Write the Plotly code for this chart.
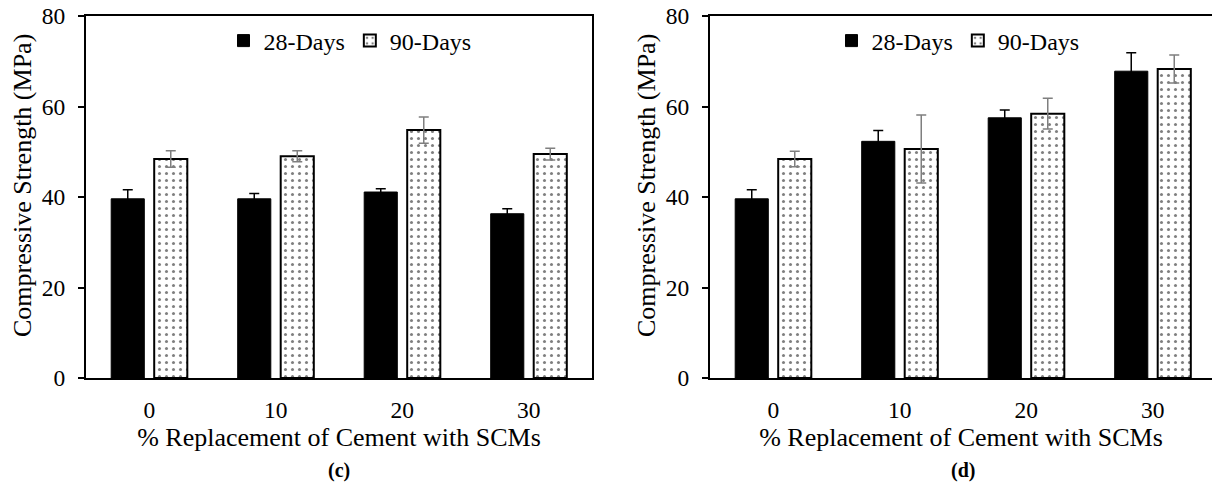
import plotly.graph_objects as go

categories = ["0", "10", "20", "30"]

# Panel (c)
c_28 = [39.6, 39.6, 41.1, 36.3]
c_28_err = [2.0, 1.2, 0.7, 1.1]
c_90 = [48.4, 49.0, 54.8, 49.5]
c_90_err = [1.8, 1.2, 2.9, 1.3]

# Panel (d)
d_28 = [39.6, 52.3, 57.5, 67.8]
d_28_err = [2.0, 2.4, 1.7, 4.1]
d_90 = [48.4, 50.6, 58.4, 68.3]
d_90_err = [1.7, 7.5, 3.4, 3.1]

y_ticks = [0, 20, 40, 60, 80]
x_title = "% Replacement of Cement with SCMs"
y_title = "Compressive Strength (MPa)"
panel_labels = ["(c)", "(d)"]

FONT = "Times New Roman, 'Liberation Serif', Tinos, 'DejaVu Serif', serif"
W, H = 1212, 488
ML, MR, MT, MB = 86, 0, 16, 110

fig = go.Figure()

def add_pair(xa, ya, legend, v28, e28, v90, e90):
    fig.add_trace(go.Bar(
        x=categories, y=v28, name="28-Days", xaxis=xa, yaxis=ya, legend=legend,
        marker=dict(color="black", line=dict(color="black", width=1)),
        error_y=dict(type="data", array=e28, color="black", thickness=1.5, width=5),
    ))
    fig.add_trace(go.Bar(
        x=categories, y=v90, name="90-Days", xaxis=xa, yaxis=ya, legend=legend,
        marker=dict(color="white", line=dict(color="black", width=2),
                    pattern=dict(shape=".", fgcolor="black", bgcolor="white",
                                 size=7, solidity=0.15, fillmode="overlay")),
        error_y=dict(type="data", array=e90, color="#7f7f7f", thickness=1.5, width=5),
    ))

add_pair("x", "y", "legend", c_28, c_28_err, c_90, c_90_err)
add_pair("x2", "y2", "legend2", d_28, d_28_err, d_90, d_90_err)

plot_w = W - ML - MR
plot_h = H - MT - MB
panel_px = 506
d1 = [0, panel_px / plot_w]
d2 = [(710 - ML) / plot_w, 1]
cat_px = panel_px / 4.0
x2_right = -0.5 + (W - 710) / cat_px

axis_common = dict(showline=True, linecolor="black", linewidth=2,
                   tickfont=dict(family=FONT, size=23.5, color="black"),
                   showgrid=False, zeroline=False)

xa = dict(axis_common, type="category", ticks="", ticklabelstandoff=10,
          title=dict(text=x_title, font=dict(family=FONT, size=26, color="black"), standoff=2))
ya = dict(axis_common, range=[0, 80], tickvals=y_ticks, ticks="outside", ticklen=6,
          tickcolor="black", tickwidth=1.5, ticklabelstandoff=8)

fig.update_layout(
    width=W, height=H,
    margin=dict(l=ML, r=MR, t=MT, b=MB, autoexpand=False),
    paper_bgcolor="white", plot_bgcolor="white",
    barmode="group", bargap=0.32, bargroupgap=0.23,
    font=dict(family=FONT, color="black"),
    xaxis=dict(xa, domain=d1, range=[-0.5, 3.5], mirror=True, anchor="y"),
    yaxis=dict(ya, domain=[0, 1], mirror=True, anchor="x"),
    xaxis2=dict(xa, domain=d2, range=[-0.5, x2_right], mirror=True, anchor="y2"),
    yaxis2=dict(ya, domain=[0, 1], mirror=False, anchor="x2"),
    legend=dict(orientation="h", x=(350 - ML) / plot_w, xanchor="center",
                y=1 - (41 - MT) / plot_h, yanchor="middle", bgcolor="rgba(0,0,0,0)",
                font=dict(family=FONT, size=24, color="black")),
    legend2=dict(orientation="h", x=(958 - ML) / plot_w, xanchor="center",
                 y=1 - (41 - MT) / plot_h, yanchor="middle", bgcolor="rgba(0,0,0,0)",
                 font=dict(family=FONT, size=24, color="black")),
    showlegend=True,
)

# y-axis titles
for xc in (22, 646):
    fig.add_annotation(text=y_title, xref="paper", yref="paper",
                       x=(xc - ML) / plot_w, y=1 - (186 - MT) / plot_h,
                       textangle=-90, showarrow=False,
                       font=dict(family=FONT, size=26, color="black"),
                       xanchor="center", yanchor="middle")

# panel labels
for lab, xc in zip(panel_labels, ((86 + 592) / 2, (710 + 1216.7) / 2)):
    fig.add_annotation(text="<b>" + lab + "</b>", xref="paper", yref="paper",
                       x=(xc - ML) / plot_w, y=-(470 - 377.7) / plot_h,
                       showarrow=False, font=dict(family=FONT, size=20, color="black"),
                       xanchor="center", yanchor="middle")

fig.write_html("out.html")
